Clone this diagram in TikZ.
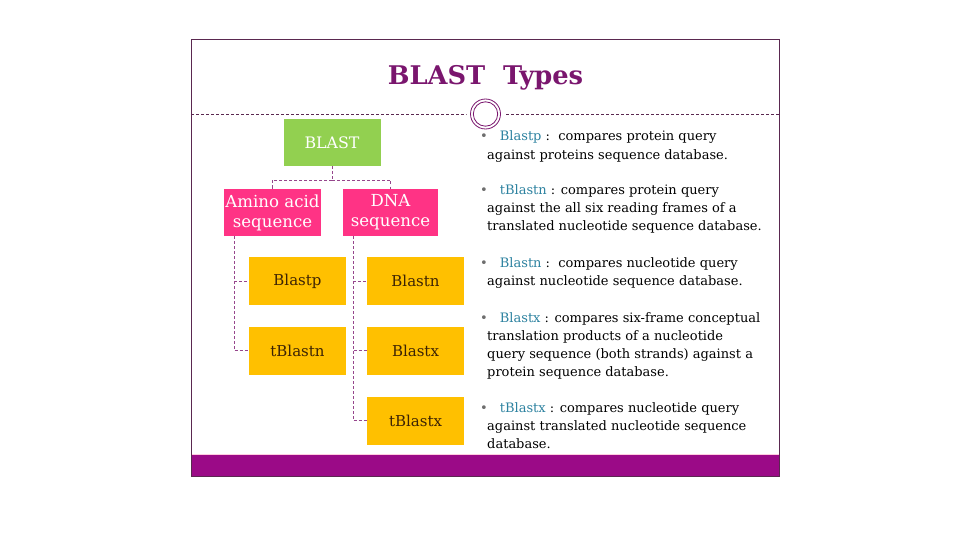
\documentclass[tikz,border=0pt]{standalone}
\usepackage{fontspec}
\setmainfont{DejaVu Serif}
\usetikzlibrary{positioning}

\definecolor{framepurple}{RGB}{90,40,80}
\definecolor{titlepurple}{RGB}{122,22,110}
\definecolor{barpurple}{RGB}{155,10,135}
\definecolor{linkpurple}{RGB}{150,70,140}
\definecolor{leafgreen}{RGB}{146,208,80}
\definecolor{hotpink}{RGB}{255,51,133}
\definecolor{amber}{RGB}{255,192,0}
\definecolor{boxtext}{RGB}{60,35,5}
\definecolor{keyteal}{RGB}{45,130,160}
\definecolor{dotgray}{RGB}{110,110,110}

\tikzset{
  typebox/.style={minimum width=97pt, minimum height=47pt, inner sep=1pt,
    align=center, font=\fontsize{15}{19}\selectfont},
  rootbox/.style={typebox, fill=leafgreen, text=white, font=\fontsize{15.8}{19}\selectfont},
  seqbox/.style={typebox, fill=hotpink, text=white, minimum width=95pt,
    font=\fontsize{16.6}{20}\selectfont},
  leafbox/.style={typebox, fill=amber, text=boxtext, minimum height=48pt},
  link/.style={draw=linkpurple, line width=0.6pt, densely dashed},
  note/.style={anchor=base west, align=left, inner sep=0pt,
    font=\fontsize{13}{18.3}\selectfont}
}
\newcommand{\blastitem}[1]{\hspace*{-7pt}{\color{dotgray}\textbullet}\hspace{12pt}{\color{keyteal}#1}}

\begin{document}
\begin{tikzpicture}[x=1pt, y=-1pt]
  \useasboundingbox (0,0) rectangle (960,540);
  \fill[white] (0,0) rectangle (960,540);

  % slide frame and bottom bar
  \fill[barpurple] (191,455) rectangle (779,476);
  \draw[hotpink!25, line width=1pt] (191,454) -- (779,454);
  \draw[framepurple, line width=0.8pt] (191,39) rectangle (779,476);

  \node[font=\fontsize{25.7}{28}\selectfont\bfseries, text=titlepurple] (title) at (485.5,78) {BLAST\ \ Types};

  % header rule with the ring
  \draw[framepurple, line width=0.5pt, densely dashed] (191,114) -- (779,114);
  \fill[white] (485.5,114) circle (19);
  \draw[titlepurple, line width=0.8pt] (485.5,114) circle (15);
  \draw[titlepurple, line width=0.8pt] (485.5,114) circle (12.2);

  % the tree
  \node[rootbox] (blast) at (332,142.5) {BLAST};
  \node[seqbox] (amino) at (272.5,212.5) {Amino acid\\sequence};
  \node[seqbox] (dna) at (390.5,212.5) {DNA\\sequence};

  \node[leafbox] (blastp) at (297.5,281) {Blastp};
  \node[leafbox] (tblastn) at (297.5,350.5) {tBlastn};
  \node[leafbox] (blastn) at (415.5,281) {Blastn};
  \node[leafbox] (blastx) at (415.5,350.5) {Blastx};
  \node[leafbox] (tblastx) at (415.5,420.5) {tBlastx};

  \coordinate (fork) at (332,180);
  \coordinate (aminotrunk) at (234,236);
  \coordinate (dnatrunk) at (353,236);

  \draw[link] (blast.south) -- (fork);
  \draw[link] (fork) -| (amino.north);
  \draw[link] (fork) -| (dna.north);
  \draw[link] (aminotrunk) |- (blastp.west);
  \draw[link] (aminotrunk) |- (tblastn.west);
  \draw[link] (dnatrunk) |- (blastn.west);
  \draw[link] (dnatrunk) |- (blastx.west);
  \draw[link] (dnatrunk) |- (tblastx.west);

  % the notes on the right (base = baseline of the last line)
  \node[note] (pnote) at (487,159.3) {\blastitem{Blastp} :\ \ compares protein query\\
    against proteins sequence database.};
  \node[note] (tnnote) at (487,230.6) {\blastitem{tBlastn} : compares protein query\\
    against the all six reading frames of a\\
    translated nucleotide sequence database.};
  \node[note] (nnote) at (487,285.3) {\blastitem{Blastn} :\ \ compares nucleotide query\\
    against nucleotide sequence database.};
  \node[note] (xnote) at (487,376.9) {\blastitem{Blastx} : compares six-frame conceptual\\
    translation products of a nucleotide\\
    query sequence (both strands) against a\\
    protein sequence database.};
  \node[note] (txnote) at (487,448.6) {\blastitem{tBlastx} : compares nucleotide query\\
    against translated nucleotide sequence\\
    database.};
\end{tikzpicture}
\end{document}
